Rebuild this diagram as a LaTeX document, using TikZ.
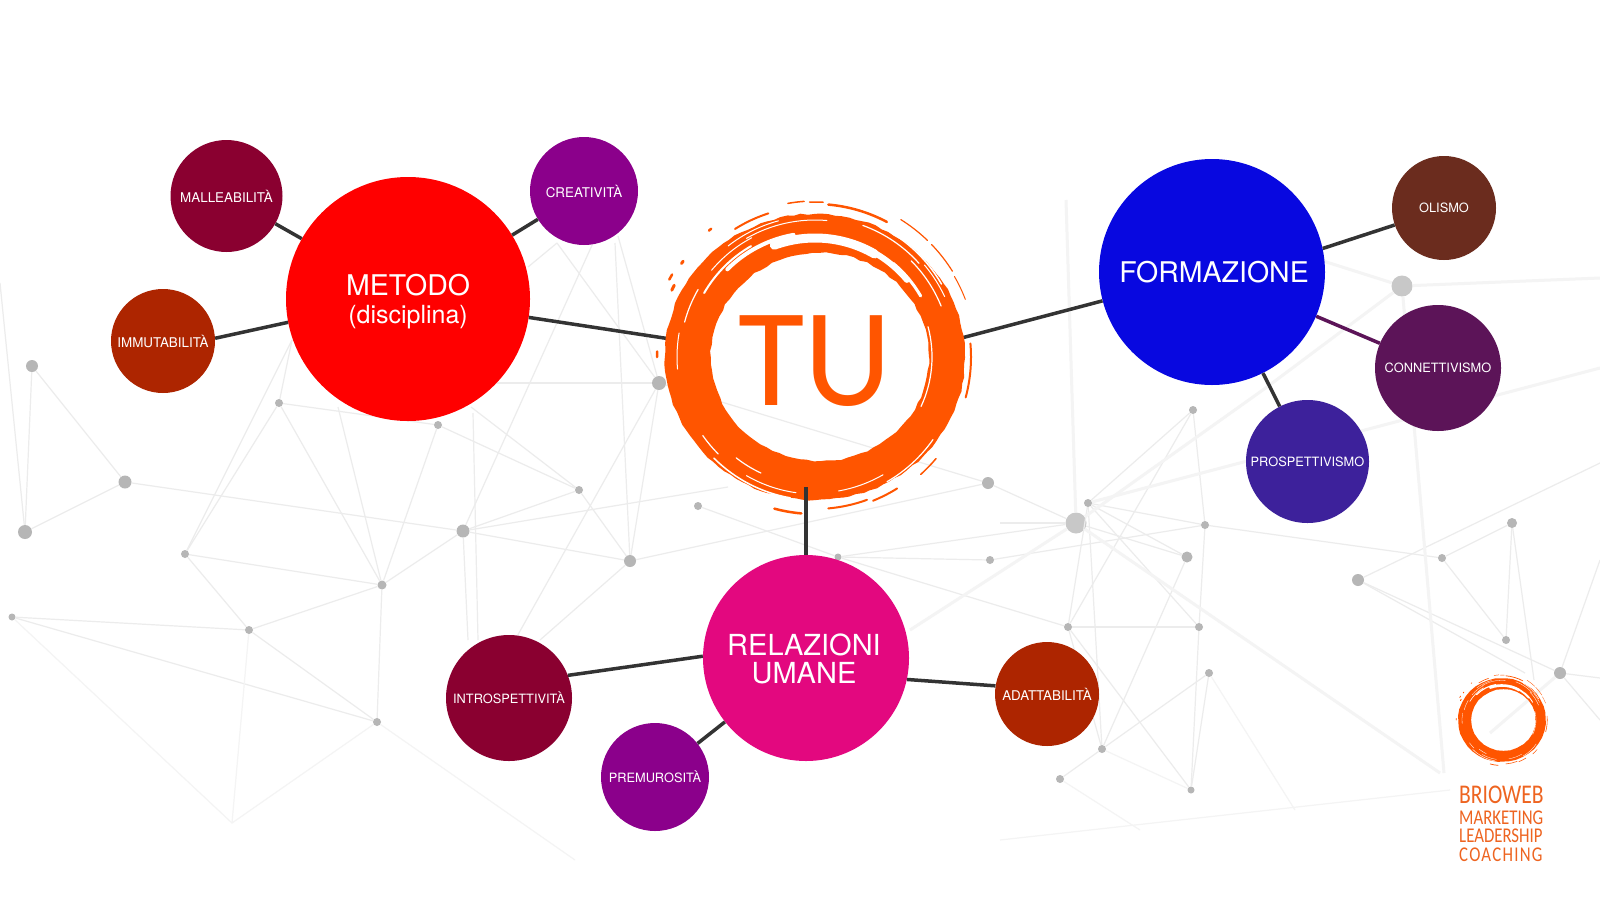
\documentclass[tikz,border=0pt]{standalone}
\usepackage{fontspec}
\setmainfont{TeX Gyre Heros}
\newfontfamily\tufont[FakeStretch=0.97]{Carlito}
\newfontfamily\logofont[FakeStretch=0.8]{Carlito}
\usetikzlibrary{decorations.pathmorphing}
\definecolor{brush}{HTML}{FF5500}
\definecolor{brand}{HTML}{EE6420}
\definecolor{linkgray}{HTML}{333333}
\definecolor{netgray}{HTML}{ECECEC}
\definecolor{bandgray}{HTML}{F4F4F4}
\definecolor{fadegray}{HTML}{F4F4F4}
\definecolor{dotgray}{HTML}{B6B6B6}
\definecolor{blurgray}{HTML}{C8C8C8}
\definecolor{metodored}{HTML}{FF0000}
\definecolor{wine}{HTML}{8A0030}
\definecolor{plum}{HTML}{8B008B}
\definecolor{rust}{HTML}{AD2500}
\definecolor{formblue}{HTML}{0808E0}
\definecolor{brownred}{HTML}{6B2C1E}
\definecolor{darkplum}{HTML}{5C1458}
\definecolor{indigo}{HTML}{3D219B}
\definecolor{magenta}{HTML}{E3087F}
\tikzset{
  netdot/.style={circle, fill=dotgray, inner sep=0pt, minimum size=#1},
  netline/.style={netgray, line width=1.2pt},
  netband/.style={bandgray, line width=3pt},
  netfade/.style={fadegray, line width=1.2pt},
  hubnode/.style={circle, inner sep=0pt, text=white, align=center, minimum size=#1,
    font=\fontsize{28.5pt}{31pt}\selectfont},
  leafnode/.style={circle, inner sep=0pt, text=white, minimum size=#1,
    font=\fontsize{12.8pt}{15pt}\selectfont},
  wideleaf/.style={leafnode=#1, font=\fontsize{13.4pt}{15pt}\selectfont},
  link/.style={linkgray, line width=3.5pt},
  logotext/.style={anchor=base west, inner sep=0pt, text=brand},
}
\begin{document}
\begin{tikzpicture}[x=1pt, y=-1pt]
  \pgfmathsetseed{7}
  \fill[white] (0,0) rectangle (1600,900);
  \useasboundingbox (0,0) rectangle (1600,900);
  % network behind the circles
  \foreach \n/\xx/\yy/\r in {a1/32/366/6, a2/125/482/6.5, a3/25/532/7, a4/185/554/4, a5/279/403/4,
      a6/438/425/4, a7/463/531/6.5, a8/382/585/4.5, a9/249/630/4, a10/12/617/3.5, a11/377/722/4,
      b1/579/490/4, b2/630/561/6, b3/659/383/7, b4/698/506/4, b5/838/557/3.5, b6/988/483/6, b7/990/560/4,
      c1/1088/503/4, c3/1193/410/4, c4/1205/525/4, c5/1187/557/5.5,
      c6/1068/627/4, c7/1199/627/4, c8/1209/673/4, c9/1102/749/4, c10/1060/779/4, c11/1191/790/3.5,
      d2/1358/580/6, d3/1442/558/4, d4/1512/523/5, d5/1506/640/4, d6/1560/673/6}
    \node[netdot=2*\r pt] (\n) at (\xx,\yy) {};
  \foreach \n/\xx/\yy in {c2/1076/523, d1/1402/286}
    \node[netdot=21pt, fill=blurgray] (\n) at (\xx,\yy) {};
  % loose ends of the lines
  \foreach \n/\xx/\yy in {f1/0/283, f2/292/340, f3/338/407, f4/618/236, f5/557/243, f6/615/243, f7/593/243,
      f8/528/267, f9/470/383, f10/473/413, f11/478/640, f12/468/640, f13/515/640, f14/540/640, f15/728/487,
      f16/1066/200, f17/910/630, f18/1267/387, f19/1440/773, f20/1000/523, f21/1320/260, f22/1600/278,
      f23/1600/368, f24/1600/463, f25/1444/773, f26/1534/680, f27/1525/673, f28/1600/560, f29/1600/678,
      f30/1490/733, f31/1600/720, f32/232/823, f33/575/860, f34/1295/810, f35/1140/830, f36/471/407,
      f37/1450/790, f38/1000/840}
    \coordinate (\n) at (\xx,\yy);
  \foreach \p/\q in {f1/a3, a1/a3, a1/a2, a2/a3, a2/a7, a4/f2, a5/f2, a4/a5, a4/a8, a4/a9, a5/a6, a5/a8,
      a6/a8, f3/a8, a7/a8, a8/a9, a8/a11, a9/a10, a9/a11, a10/a11,
      a6/b1, a7/b1, a7/b2, b1/b2, f36/b1, b2/b3, f4/b3, f5/b3, f6/b2, f7/a7, f8/f5, f9/b3, f10/f11, a7/f12,
      b3/f13, b2/f14, a7/f15, b2/b6, b3/b6, b4/b5, b5/b7, b5/c6, b5/c2, b6/c2, f20/c2, b7/c4,
      c1/c3, c1/c4, c1/c5, c1/c6, c1/c9, c1/c7, c3/c4, c3/c6, c2/c5, c5/c9, c4/c7, c6/c7, c6/c9, c6/c11,
      c7/c11, c9/c8, c9/c10, c8/c11, c4/d3,
      d2/f24, d3/d4, d3/d5, d4/d5, d4/f26, d2/d6, d2/f27, d6/f28, d6/f29, d6/f31}
    \draw[netline] (\p) -- (\q);
  \foreach \p/\q in {a10/f32, a9/f32, a11/f32, a11/f33, c8/f34, c10/f35, c9/c11, f38/f37}
    \draw[netfade] (\p) -- (\q);
  \foreach \p/\q in {f17/c2, c2/f18, f18/d1, c2/f19, f16/c2, d1/f21, d1/f22, d1/f25, c1/f23, d6/f30}
    \draw[netband] (\p) -- (\q);
  % the main circles
  \node[hubnode=244pt, fill=metodored] (metodo) at (408,299)
    {\rule{0pt}{23pt}\raisebox{-3pt}{METODO}\\{\fontsize{25pt}{25pt}\selectfont (disciplina)}};
  \node[wideleaf=112pt, fill=wine] (malleabilita) at (226.5,196) {MALLEABILITÀ};
  \node[wideleaf=108pt, fill=plum] (creativita) at (584,191) {CREATIVITÀ};
  \node[wideleaf=104pt, fill=rust] (immutabilita) at (163,341) {IMMUTABILITÀ};
  \node[hubnode=226pt, fill=formblue] (formazione) at (1212,272) {\kern4pt FORMAZIONE};
  \node[leafnode=104pt, fill=brownred] (olismo) at (1444,208) {OLISMO};
  \node[leafnode=126pt, fill=darkplum] (connettivismo) at (1438,368) {CONNETTIVISMO};
  \node[leafnode=123pt, fill=indigo] (prospettivismo) at (1307.5,461.5) {PROSPETTIVISMO};
  \node[hubnode=206pt, fill=magenta, font=\fontsize{29pt}{27.5pt}\selectfont] (relazioni) at (806,658)
    {\rule{0pt}{23pt}\kern-4pt RELAZIONI\\\kern-4pt UMANE};
  \node[leafnode=126pt, fill=wine] (introspettivita) at (509,698) {INTROSPETTIVITÀ};
  \node[leafnode=108pt, fill=plum] (premurosita) at (655,777) {PREMUROSITÀ};
  \node[wideleaf=104pt, fill=rust] (adattabilita) at (1047,694) {ADATTABILITÀ};
  \node[circle, inner sep=0pt, minimum size=300pt, text=brush,
        font=\tufont\fontsize{140pt}{140pt}\selectfont] (tu) at (815,361) {TU};
  % connectors
  \draw[link] (metodo) -- (tu);
  \draw[link] (formazione) -- (tu.9);
  \foreach \p in {malleabilita, creativita}
    \draw[link] (\p) -- (metodo);
  \draw[link] (immutabilita.3) -- (metodo.191);
  \draw[link] (olismo.199.6) -- (formazione.12.8);
  \draw[link] (prospettivismo) -- (formazione);
  \draw[link, darkplum] (connettivismo) -- (formazione);
  \draw[link] (introspettivita.21) -- (relazioni.179);
  \draw[link] (premurosita) -- (relazioni);
  \draw[link] (relazioni.-12) -- (adattabilita.171);
  % the brush ring, large and in the logo
  \foreach \rx/\ry/\rs in {815/357/1, 1502/720/0.29} {
    \begin{scope}[shift={(\rx,\ry)}, scale=\rs, yscale=-1]
      \fill[brush, even odd rule, decorate,
            decoration={random steps, segment length=7pt, amplitude=\rs*0.8pt}]
        (0,0) ellipse [x radius=150, y radius=143] (5,0) ellipse [x radius=109, y radius=104];
      % gaps in the paint
      \foreach \sa/\ea/\rr/\lw in {150/120/128/2, 135/100/124/4, 110/60/119/9, 75/40/120/6, 50/30/122/3,
          15/-25/117/1.2, 150/165/135/1.2, 170/185/138/1, 215/225/137/1.2, 232/245/128/1.2,
          45/22/136/1.2, 120/85/137/1, 70/42/140/1.2, 240/262/137/1, 280/300/136/1,
          60/30/146/1.5, 40/25/143/1, 225/260/143/1.5, -35/-60/144/1.2, 140/118/135/1, 128/105/141/1}
        \draw[white, line width=\lw*\rs pt, line cap=round] (\sa:\rr) arc [start angle=\sa, end angle=\ea, radius=\rr];
      % loose strokes around it
      \foreach \sa/\ea/\rr/\lw in {100/94/156/1.5, 92/87/155/1.5, 85/62/153/2.5, 58/46/162/1.2, 44/32/162/1.2, 30/21/161/1, 5/-15/156/2,
          255/265/157/2.5, 275/290/152/2, 122/108/151/2, 155/153/158/3, 152/150/165/2.5, 145/144/163/3,
          130/129/165/2.5, 180/178/158/2.5, -48/-40/158/1.5, -68/-58/155/2}
        \draw[brush, line width=\lw*\rs pt, line cap=round] (\sa:\rr) arc [start angle=\sa, end angle=\ea, radius=\rr];
    \end{scope}
  }
  % the bottom link runs over the paint
  \coordinate (tubottom) at (806,487);
  \draw[link] (relazioni) -- (tubottom);
  % logo lettering
  \node[logotext, font=\logofont\fontsize{27pt}{27pt}\selectfont] (brioweb) at (1459,803) {BRIOWEB};
  \node[logotext, font=\logofont\fontsize{21pt}{21pt}\selectfont] (marketing) at (1459,824) {MARKETING};
  \node[logotext, font=\logofont\fontsize{21pt}{21pt}\selectfont] (leadership) at (1459,842) {LEADERSHIP};
  \node[logotext, font=\logofont\fontsize{21pt}{21pt}\selectfont\addfontfeature{LetterSpace=6}] (coaching) at (1459,861) {COACHING};
\end{tikzpicture}
\end{document}
